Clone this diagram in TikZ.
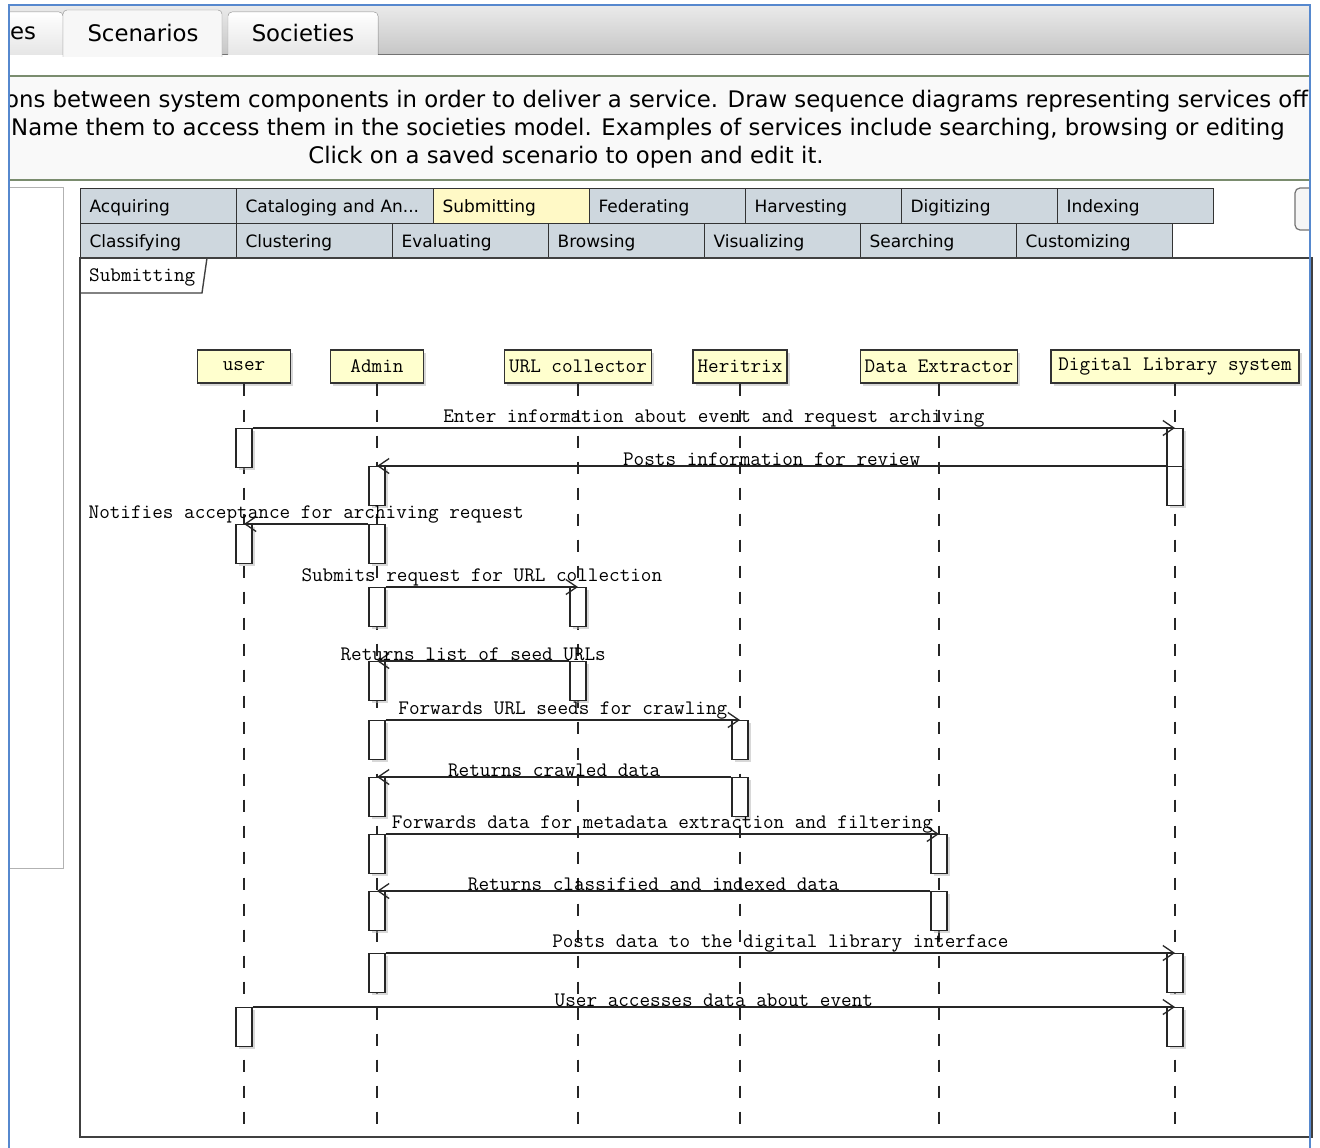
\documentclass[tikz,border=0pt]{standalone}
\usepackage{fontspec}
\setmainfont{DejaVu Sans}
\usetikzlibrary{arrows.meta,shadows}

\definecolor{winblue}{RGB}{86,136,206}
\definecolor{stripgray}{RGB}{198,198,198}
\definecolor{descgreen}{RGB}{122,140,110}
\definecolor{descfill}{RGB}{249,249,249}
\definecolor{tabgray}{RGB}{206,215,222}
\definecolor{tabyellow}{RGB}{255,249,198}
\definecolor{headyellow}{RGB}{255,255,206}

\begin{document}
\begin{tikzpicture}[x=1pt, y=-1pt,
    uitext/.style={font=\fontsize{22.8}{27}\selectfont, inner sep=0pt},
    pagetab/.style={draw=black!35, top color=white, bottom color=black!10},
    acttab/.style={draw=black!80, line width=1.2pt, fill=tabgray, anchor=north west,
        minimum height=35pt, text width=138pt, text height=17pt, text depth=4pt,
        inner xsep=9pt, inner ysep=0pt,
        align=left, font=\fontsize{17}{20}\selectfont},
    head/.style={draw=black!80, line width=1.4pt, fill=headyellow, minimum height=33pt,
        inner sep=0pt, font=\ttfamily\fontsize{20.6}{22}\selectfont,
        drop shadow={shadow xshift=2.5pt, shadow yshift=-2.5pt, fill=black!30}},
    act/.style={draw=black!85, line width=1.4pt, fill=white, minimum width=16pt,
        minimum height=39pt, inner sep=0pt, anchor=north,
        drop shadow={shadow xshift=2.5pt, shadow yshift=-2.5pt, fill=black!30}},
    lifeline/.style={draw=black!85, line width=1.3pt, dash pattern=on 12pt off 14pt},
    msg/.style={draw=black!85, line width=1.3pt,
        -{Straight Barb[length=11pt, width=15pt]}},
    msglabel/.style={font=\ttfamily\fontsize{20.6}{22}\selectfont, inner sep=0pt}
]
    \useasboundingbox (0,0) rectangle (1320,1148);
    \fill[white] (0,0) rectangle (1320,1148);

    \begin{scope}
    \clip (9,5) rectangle (1310,1148);
    % window tabs
    \shade[top color=black!8, bottom color=stripgray] (9,5) rectangle (1310,55);
    \draw[black!55, line width=1pt] (9,55) -- (1310,55);
    \filldraw[pagetab, rounded corners=4pt] (0,55) |- (63,12) -- (63,55);
    \filldraw[pagetab, rounded corners=4pt] (228,55) |- (378,12) -- (378,55);
    \filldraw[draw=black!45, fill=black!3, rounded corners=4pt] (63,57) |- (222,10) -- (222,57);
    \node[uitext, anchor=west] (tabEs) at (10,33) {es};
    \node[uitext] (tabScenarios) at (143,33) {Scenarios};
    \node[uitext] (tabSocieties) at (303,33) {Societies};

    % description
    \fill[descfill] (9,76) rectangle (1310,180);
    \draw[descgreen, line width=1.5pt] (9,76) -- (1310,76);
    \draw[descgreen, line width=1.5pt] (9,180) -- (1310,180);
    \node[uitext, anchor=west] (descA) at (5,101) {ons between system components in order to deliver a service. Draw sequence diagrams representing services off};
    \node[uitext, anchor=west] (descB) at (11,129) {Name them to access them in the societies model. Examples of services include searching, browsing or editing};
    \node[uitext] (descC) at (566,157) {Click on a saved scenario to open and edit it.};

    % side panel and button
    \draw[black!30, fill=white] (9,187) rectangle (63,868);
    \draw[black!55, line width=1.2pt, fill=black!4, rounded corners=5pt] (1295,188) rectangle (1330,230);
    \end{scope}

    % activity tabs
    \node[acttab] (tAcquiring) at (80,188) {Acquiring};
    \node[acttab, text width=179pt] (tCataloging) at (236,188) {Cataloging and An...};
    \node[acttab, fill=tabyellow] (tSubmitting) at (433,188) {Submitting};
    \node[acttab] (tFederating) at (589,188) {Federating};
    \node[acttab] (tHarvesting) at (745,188) {Harvesting};
    \node[acttab] (tDigitizing) at (901,188) {Digitizing};
    \node[acttab] (tIndexing) at (1057,188) {Indexing};
    \node[acttab] (tClassifying) at (80,223) {Classifying};
    \node[acttab] (tClustering) at (236,223) {Clustering};
    \node[acttab] (tEvaluating) at (392,223) {Evaluating};
    \node[acttab] (tBrowsing) at (548,223) {Browsing};
    \node[acttab] (tVisualizing) at (704,223) {Visualizing};
    \node[acttab] (tSearching) at (860,223) {Searching};
    \node[acttab] (tCustomizing) at (1016,223) {Customizing};

    % sequence frame
    \draw[black!75, line width=2pt] (80,258) rectangle (1312,1137);
    \draw[black!75, line width=1.4pt] (80,293) -- (202,293) -- (207,258);
    \node[msglabel, anchor=west] (frameTag) at (89,277) {Submitting};

    % lifelines
    \node[head, minimum width=93pt] (user) at (244,366.5) {user};
    \node[head, minimum width=93pt] (admin) at (377,366.5) {Admin};
    \node[head, minimum width=147pt] (collector) at (578,366.5) {URL collector};
    \node[head, minimum width=94pt] (heritrix) at (740,366.5) {Heritrix};
    \node[head, minimum width=157pt] (extractor) at (939,366.5) {Data Extractor};
    \node[head, minimum width=248pt] (library) at (1175,366.5) {Digital Library system};
    \coordinate (lifeEnd) at (0,1124);
    \draw[lifeline] (user.south) -- (user.south |- lifeEnd);
    \draw[lifeline] (admin.south) -- (admin.south |- lifeEnd);
    \draw[lifeline] (collector.south) -- (collector.south |- lifeEnd);
    \draw[lifeline] (heritrix.south) -- (heritrix.south |- lifeEnd);
    \draw[lifeline] (extractor.south) -- (extractor.south |- lifeEnd);
    \draw[lifeline] (library.south) -- (library.south |- lifeEnd);

    % activations
    \node[act] (u1) at (244,428) {};
    \node[act] (u2) at (244,524) {};
    \node[act] (u3) at (244,1007) {};
    \node[act] (a1) at (377,466) {};
    \node[act] (a2) at (377,524) {};
    \node[act] (a3) at (377,587) {};
    \node[act] (a4) at (377,661) {};
    \node[act] (a5) at (377,720) {};
    \node[act] (a6) at (377,777) {};
    \node[act] (a7) at (377,834) {};
    \node[act] (a8) at (377,891) {};
    \node[act] (a9) at (377,953) {};
    \node[act] (c1) at (578,587) {};
    \node[act] (c2) at (578,661) {};
    \node[act] (h1) at (740,720) {};
    \node[act] (h2) at (740,777) {};
    \node[act] (e1) at (939,834) {};
    \node[act] (e2) at (939,891) {};
    \node[act] (d1) at (1175,428) {};
    \node[act] (d2) at (1175,466) {};
    \node[act] (d3) at (1175,953) {};
    \node[act] (d4) at (1175,1007) {};

    % messages
    \draw[msg] (u1.north east) -- (d1.north) node[midway, above, msglabel] {Enter information about event and request archiving};
    \draw[msg] (d2.north west) -- (a1.north) node[midway, above, msglabel] {Posts information for review};
    \draw[msg] (a2.north west) -- (u2.north) node[midway, above, msglabel] {Notifies acceptance for archiving request};
    \draw[msg] (a3.north east) -- (c1.north) node[midway, above, msglabel] {Submits request for URL collection};
    \draw[msg] (c2.north west) -- (a4.north) node[midway, above, msglabel] {Returns list of seed URLs};
    \draw[msg] (a5.north east) -- (h1.north) node[midway, above, msglabel] {Forwards URL seeds for crawling};
    \draw[msg] (h2.north west) -- (a6.north) node[midway, above, msglabel] {Returns crawled data};
    \draw[msg] (a7.north east) -- (e1.north) node[midway, above, msglabel] {Forwards data for metadata extraction and filtering};
    \draw[msg] (e2.north west) -- (a8.north) node[midway, above, msglabel] {Returns classified and indexed data};
    \draw[msg] (a9.north east) -- (d3.north) node[midway, above, msglabel] {Posts data to the digital library interface};
    \draw[msg] (u3.north east) -- (d4.north) node[midway, above, msglabel] {User accesses data about event};

    % window border
    \draw[winblue, line width=2.5pt] (9,1148) -- (9,5) -- (1310,5) -- (1310,1148);
\end{tikzpicture}
\end{document}
